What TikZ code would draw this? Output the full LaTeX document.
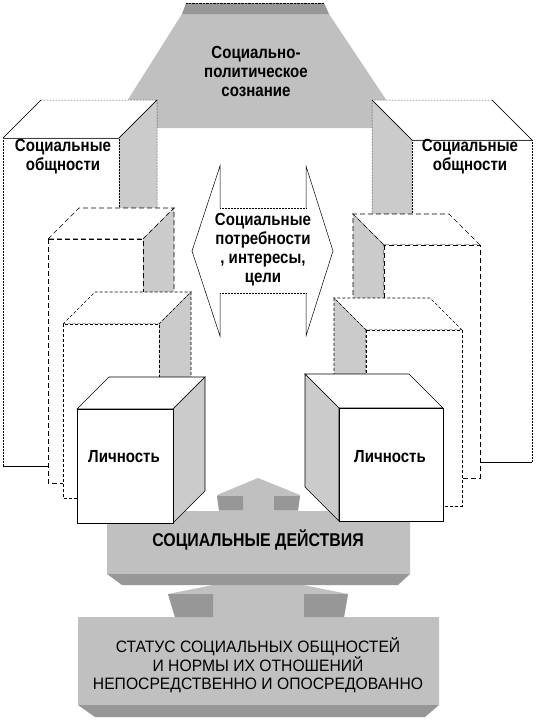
\documentclass[tikz,border=0pt]{standalone}
\usepackage{fontspec}
\setmainfont{Liberation Sans}
\newfontfamily\bnarrow{Liberation Sans}[FakeStretch=0.86]
\newfontfamily\rnarrow{Liberation Sans}[FakeStretch=0.95]
\definecolor{lg}{HTML}{C0C0C0}
\definecolor{dg}{HTML}{979797}
\definecolor{side}{HTML}{CBCBCB}
% cube with its side face on the right: x1 y1 (front top-left), x2 y2 (front bottom-right), depth, edge style
\newcommand\cubeR[6]{%
  \filldraw[fill=white,#6] (#1,#2) -- ({#1+#5},{#2-#5}) -- ({#3+#5},{#2-#5}) -- (#3,#2) -- cycle;
  \filldraw[fill=side,#6] (#3,#2) -- ({#3+#5},{#2-#5}) -- ({#3+#5},{#4-#5}) -- (#3,#4) -- cycle;
  \filldraw[fill=white,#6] (#1,#2) rectangle (#3,#4);
}
% cube with its side face on the left
\newcommand\cubeL[6]{%
  \filldraw[fill=white,#6] (#3,#2) -- ({#3-#5},{#2-#5}) -- ({#1-#5},{#2-#5}) -- (#1,#2) -- cycle;
  \filldraw[fill=side,#6] (#1,#2) -- ({#1-#5},{#2-#5}) -- ({#1-#5},{#4-#5}) -- (#1,#4) -- cycle;
  \filldraw[fill=white,#6] (#1,#2) rectangle (#3,#4);
}
\begin{document}
\begin{tikzpicture}[x=1pt,y=-1pt,line width=0.5pt,
  lbl/.style={font=\bnarrow\bfseries\fontsize{17.5}{19}\selectfont,align=center,inner sep=0pt},
  caps/.style={font=\bnarrow\bfseries\fontsize{18.5}{20}\selectfont,align=center,inner sep=0pt},
  stat/.style={font=\rnarrow\fontsize{16.5}{18}\selectfont,align=center,inner sep=0pt},
  bigedge/.style={densely dotted,line width=0.5pt},
  dashA/.style={dash pattern=on 5pt off 3pt,line width=0.6pt},
  dashB/.style={dash pattern=on 3pt off 2pt,line width=0.6pt},
  solidedge/.style={solid,line width=0.6pt}]
\useasboundingbox[fill=white] (0,0) rectangle (536,721);

% top trapezoid: social-political consciousness
\fill[lg] (182,14) -- (329,14) -- (405,128) -- (110,128) -- cycle;
\fill[dg] (186,3) -- (324,3) -- (329,14) -- (182,14) -- cycle;
\draw[densely dotted,line width=0.4pt] (186,3) -- (324,3);

% bottom block: status
\fill[lg] (78,617) -- (175,617) -- (168,594) -- (258,576) -- (348,594) -- (344,617)
  -- (439,617) -- (439,705) -- (78,705) -- cycle;
\fill[dg] (168,594) -- (213,594) -- (213,617) -- (175,617) -- cycle;
\fill[dg] (304,594) -- (348,594) -- (344,617) -- (304,617) -- cycle;
\fill[dg] (78,705) -- (439,705) -- (425,717) -- (95,717) -- cycle;

% middle block: social actions
\fill[lg] (107,511) -- (219,511) -- (217,495) -- (258,478) -- (300,495) -- (298,511)
  -- (410,511) -- (410,574) -- (107,574) -- cycle;
\fill[dg] (217,496) -- (243,496) -- (243,510) -- (219,510) -- cycle;
\fill[dg] (274,496) -- (300,496) -- (298,510) -- (274,510) -- cycle;
\fill[dg] (107,574) -- (410,574) -- (398,585) -- (122,585) -- cycle;

% left column of cubes
\cubeR{3}{138}{119}{466}{38}{bigedge}
\draw[line width=0.8pt,black!75] (3,138) -- (119,138);
\draw[line width=0.4pt] (3,138) -- (41,100) (119,138) -- (157,100);
\draw[line width=0.6pt] (3,466) -- (48,466);
\cubeR{48}{239}{143}{483}{31}{dashA}
\cubeR{63}{324}{159}{498}{32}{dashB}
\cubeR{77}{409}{173}{523}{32}{solidedge}

% right column of cubes
\cubeL{412}{140}{532}{462}{40}{bigedge}
\draw[line width=0.8pt,black!75] (412,140) -- (532,140);
\draw[line width=0.4pt] (412,140) -- (372,100) (532,140) -- (492,100);
\draw[line width=0.6pt] (480,462) -- (532,462);
\cubeL{384}{245}{480}{478}{31}{dashA}
\cubeL{366}{330}{462}{506}{32}{dashB}
\cubeL{339}{408}{443}{521}{34}{solidedge}

% central double arrow
\fill[white] (192,251) -- (220,166) -- (220,208) -- (306,208) -- (306,166) -- (333,251)
  -- (306,336) -- (306,293) -- (220,293) -- (220,336) -- cycle;
\draw[line width=0.5pt] (220,208) -- (220,166) -- (192,251) -- (220,336) -- (220,293);
\draw[line width=0.5pt] (306,208) -- (306,166) -- (333,251) -- (306,336) -- (306,293);
\draw[densely dotted,line width=0.5pt] (220,208) -- (306,208) (220,293) -- (306,293);

% texts
\node[lbl] (consc) at (256,71) {Социально-\\политическое\\сознание};
\node[lbl] (commL) at (63,157) {Социальные\\общности};
\node[lbl] (commR) at (470,157) {Социальные\\общности};
\node[lbl] (needs) at (263,250) {Социальные\\потребности\\, интересы,\\цели};
\node[lbl] (persL) at (124,457) {Личность};
\node[lbl] (persR) at (390,457) {Личность};
\node[caps] (act) at (258,540) {СОЦИАЛЬНЫЕ ДЕЙСТВИЯ};
\node[stat] (status) at (258,665) {СТАТУС СОЦИАЛЬНЫХ ОБЩНОСТЕЙ\\И НОРМЫ ИХ ОТНОШЕНИЙ\\НЕПОСРЕДСТВЕННО И ОПОСРЕДОВАННО};
\end{tikzpicture}
\end{document}
